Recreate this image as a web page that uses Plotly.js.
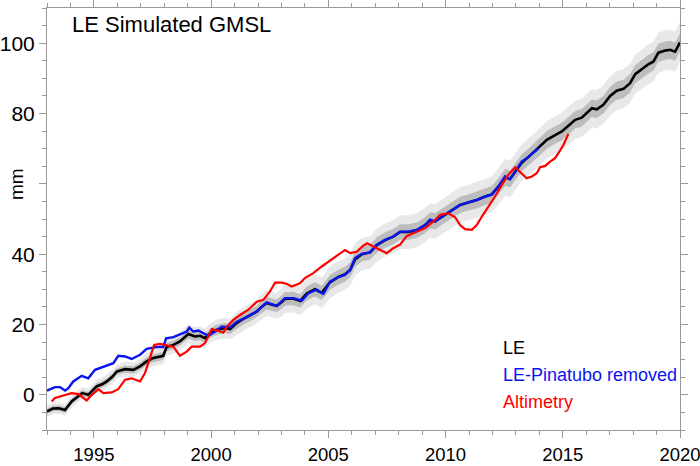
<!DOCTYPE html>
<html>
<head>
<meta charset="utf-8">
<script src="https://cdn.plot.ly/plotly-3.0.1.min.js"></script>
<style>
  body { margin: 0; background: #fff; }
  #plotArea { width: 700px; height: 466px; }
</style>
</head>
<body>
<div id="plotArea"></div>
<script>
// LE ensemble mean (black)
var leYears = [1993.0, 1993.25, 1993.5, 1993.77, 1994.05, 1994.3, 1994.5, 1994.76, 1995.12, 1995.35,
  1995.55, 1995.8, 1995.97, 1996.33, 1996.68, 1996.97, 1997.25, 1997.5, 1997.68, 1997.96,
  1998.1, 1998.39, 1998.67, 1999.03, 1999.31, 1999.53, 1999.74, 1999.95, 2000.24, 2000.59,
  2000.81, 2001.09, 2001.3, 2001.52, 2001.75, 2001.95, 2002.15, 2002.37, 2002.6, 2002.8,
  2003.0, 2003.15, 2003.5, 2003.8, 2004.08, 2004.43, 2004.72, 2005.07, 2005.43, 2005.71,
  2005.93, 2006.14, 2006.43, 2006.78, 2007.07, 2007.42, 2007.77, 2008.06, 2008.41, 2008.77,
  2009.13, 2009.34, 2009.55, 2009.91, 2010.27, 2010.62, 2010.97, 2011.33, 2011.69, 2011.97,
  2012.25, 2012.54, 2012.75, 2012.97, 2013.25, 2013.53, 2013.75, 2013.96, 2014.32, 2014.6,
  2014.96, 2015.24, 2015.53, 2015.81, 2016.02, 2016.24, 2016.45, 2016.73, 2017.02, 2017.3,
  2017.59, 2017.87, 2018.09, 2018.37, 2018.65, 2018.87, 2019.08, 2019.37, 2019.58, 2019.79,
  2020.0];
var leMm = [-4.7, -3.9, -3.8, -4.3, -1.9, -0.5, 0.5, 0.0, 2.4, 3.0,
  3.8, 5.2, 6.6, 7.3, 7.1, 8.1, 9.5, 10.4, 10.6, 11.1,
  13.6, 14.2, 15.2, 17.3, 16.6, 16.8, 16.1, 17.5, 18.5, 19.0,
  18.7, 20.4, 21.3, 22.1, 22.8, 23.7, 25.0, 26.1, 25.6, 25.3,
  26.3, 27.3, 27.4, 26.7, 28.8, 30.0, 29.0, 32.0, 33.5, 34.3,
  35.5, 38.5, 40.0, 40.5, 42.6, 44.0, 45.0, 46.3, 46.3, 46.8,
  48.3, 49.6, 49.3, 50.9, 52.5, 54.0, 54.7, 55.4, 56.4, 57.0,
  59.2, 61.8, 61.4, 63.5, 66.0, 67.6, 69.0, 70.1, 72.5, 73.6,
  74.9, 76.5, 78.2, 78.8, 80.0, 81.5, 81.2, 82.5, 85.0, 86.5,
  87.0, 88.6, 91.2, 92.6, 94.0, 94.8, 97.3, 97.9, 98.1, 97.6,
  100.2];

// ensemble spread half-widths by calendar year (1993..2020)
var spreadYears = [1993, 1994, 1995, 1996, 1997, 1998, 1999, 2000, 2001, 2002, 2003, 2004, 2005, 2006,
  2007, 2008, 2009, 2010, 2011, 2012, 2013, 2014, 2015, 2016, 2017, 2018, 2019, 2020];
var spreadInner = [0.8, 0.8, 0.9, 1.0, 1.1, 1.2, 1.3, 1.4, 1.6, 1.8, 1.9, 2.0, 2.1, 2.1,
  2.2, 2.2, 2.3, 2.3, 2.4, 2.4, 2.4, 2.5, 2.5, 2.5, 2.6, 2.6, 2.6, 2.6];
var spreadOuter = [1.6, 1.7, 1.9, 2.1, 2.3, 2.5, 2.7, 2.9, 3.3, 3.7, 4.0, 4.3, 4.5, 4.6,
  4.7, 4.8, 4.9, 5.0, 5.1, 5.2, 5.2, 5.3, 5.4, 5.5, 5.6, 5.6, 5.7, 5.7];

// LE with Pinatubo removed (blue)
var pinYears = [1993.0, 1993.34, 1993.55, 1993.77, 1993.91, 1994.12, 1994.48, 1994.76, 1995.05, 1995.4,
  1995.83, 1996.04, 1996.33, 1996.61, 1996.97, 1997.25, 1997.68, 1997.96, 1998.08, 1998.39,
  1998.75, 1998.96, 1999.07, 1999.24, 1999.46, 1999.67, 1999.88, 2000.17, 2000.45, 2000.81,
  2001.09, 2001.52, 2001.95, 2002.37, 2002.8, 2003.15, 2003.51, 2003.87, 2004.15, 2004.5,
  2004.79, 2005.07, 2005.43, 2005.71, 2005.93, 2006.14, 2006.43, 2006.78, 2007.07, 2007.42,
  2007.77, 2008.06, 2008.41, 2008.77, 2009.13, 2009.34, 2009.55, 2009.91, 2010.27, 2010.62,
  2010.97, 2011.33, 2011.69, 2011.97, 2012.25, 2012.54, 2012.75, 2012.97, 2013.25, 2013.53,
  2013.75, 2013.96];
var pinMm = [1.2, 2.2, 2.2, 1.2, 1.9, 3.8, 5.4, 4.7, 7.1, 7.9,
  9.0, 11.1, 10.9, 10.2, 11.4, 13.1, 13.6, 13.6, 16.1, 16.4,
  17.5, 18.0, 19.1, 18.0, 18.3, 17.5, 16.8, 18.0, 19.4, 19.2,
  20.8, 22.1, 23.7, 26.3, 25.3, 27.5, 27.5, 26.8, 28.9, 29.9,
  28.7, 32.2, 33.5, 34.1, 35.5, 38.9, 40.1, 40.5, 42.7, 44.1,
  45.0, 46.4, 46.4, 46.9, 48.3, 49.8, 49.3, 50.9, 52.6, 54.0,
  54.7, 55.4, 56.4, 56.9, 59.2, 62.1, 61.3, 63.5, 66.3, 67.6,
  69.0, 70.1];

// satellite altimetry (red)
var altYears = [1993.2, 1993.34, 1993.7, 1994.05, 1994.34, 1994.69, 1994.91, 1995.19, 1995.4, 1995.76,
  1996.04, 1996.33, 1996.61, 1996.97, 1997.18, 1997.39, 1997.57, 1997.82, 1998.1, 1998.39,
  1998.67, 1998.96, 1999.17, 1999.53, 1999.74, 2000.03, 2000.31, 2000.52, 2000.67, 2000.95,
  2001.23, 2001.59, 2001.95, 2002.23, 2002.51, 2002.73, 2003.01, 2003.22, 2003.43, 2003.79,
  2004.0, 2004.36, 2004.72, 2005.07, 2005.43, 2005.71, 2005.93, 2006.21, 2006.49, 2006.66,
  2006.92, 2007.21, 2007.49, 2007.77, 2008.06, 2008.35, 2008.77, 2009.13, 2009.48, 2009.77,
  2010.12, 2010.41, 2010.62, 2010.83, 2011.12, 2011.33, 2011.55, 2011.83, 2012.11, 2012.4,
  2012.68, 2012.97, 2013.25, 2013.46, 2013.68, 2013.89, 2014.03, 2014.25, 2014.46, 2014.67,
  2014.86, 2015.03, 2015.24];
var altMm = [-1.9, -0.9, -0.2, 0.5, 0.2, -1.6, 0.0, 1.6, 0.5, 0.7,
  1.6, 4.3, 4.7, 3.8, 6.2, 10.9, 14.2, 14.5, 14.2, 13.7,
  11.1, 12.3, 13.7, 13.7, 14.7, 18.7, 18.2, 17.7, 19.4, 21.3,
  22.7, 24.2, 26.5, 27.0, 29.4, 31.9, 31.9, 31.6, 30.8, 31.7,
  33.2, 34.6, 36.5, 38.2, 39.8, 41.2, 40.3, 40.7, 42.4, 43.1,
  42.2, 41.2, 40.3, 41.7, 42.7, 45.2, 46.4, 47.4, 49.3, 51.2,
  51.6, 50.5, 48.3, 47.1, 46.9, 48.3, 50.7, 53.5, 56.4, 59.7,
  62.6, 64.7, 63.0, 61.6, 62.1, 63.0, 64.7, 65.1, 66.3, 67.3,
  69.2, 71.1, 74.2];

var fontFam = "Liberation Sans, Arial, Helvetica, sans-serif";

function band(spread) {
  var up = [], lo = [];
  for (var i = 0; i < leYears.length; i++) {
    var k = spreadYears.indexOf(Math.floor(leYears[i]));
    up.push(leMm[i] + spread[k]);
    lo.push(leMm[i] - spread[k]);
  }
  return {
    x: leYears.concat(leYears.slice().reverse()),
    y: up.concat(lo.reverse())
  };
}

var outer = band(spreadOuter);
var inner = band(spreadInner);

var outerTrace = {x: outer.x, y: outer.y, type: "scatter", mode: "lines", fill: "toself",
  fillcolor: "#e8e8e8", line: {width: 0}, hoverinfo: "skip", showlegend: false};
var innerTrace = {x: inner.x, y: inner.y, type: "scatter", mode: "lines", fill: "toself",
  fillcolor: "#bdbdbd", line: {width: 0}, hoverinfo: "skip", showlegend: false};
var leTrace = {x: leYears, y: leMm, type: "scatter", mode: "lines", name: "LE",
  line: {color: "#000000", width: 2.6}, showlegend: false};
var pinTrace = {x: pinYears, y: pinMm, type: "scatter", mode: "lines", name: "LE-Pinatubo removed",
  line: {color: "#0a14f0", width: 2.4}, showlegend: false};
var altTrace = {x: altYears, y: altMm, type: "scatter", mode: "lines", name: "Altimetry",
  line: {color: "#ff0000", width: 2.2}, showlegend: false};

var axisCommon = {
  showline: true, linecolor: "#999999", linewidth: 1, mirror: "ticks",
  ticks: "outside", ticklen: 7, tickcolor: "#999999", tickwidth: 1,
  showgrid: false, zeroline: false, ticklabeloverflow: "allow"
};

var layout = {
  width: 700, height: 466,
  margin: {l: 47, r: 20, t: 8, b: 36},
  paper_bgcolor: "#ffffff", plot_bgcolor: "#ffffff",
  showlegend: false,
  xaxis: Object.assign({}, axisCommon, {
    range: [1993, 2020], tickmode: "linear", tick0: 1995, dtick: 5,
    ticklabelstandoff: 1,
    tickfont: {family: fontFam, size: 18.5, color: "#000000"},
    minor: {dtick: 1, tick0: 1993, ticklen: 4, tickcolor: "#999999", ticks: "outside"}
  }),
  yaxis: Object.assign({}, axisCommon, {
    range: [-10, 110], tickmode: "array",
    tickvals: [0, 20, 40, 60, 80, 100],
    ticktext: ["0", "20", "40", "", "80", "100"],
    tickfont: {family: fontFam, size: 21, color: "#000000"},
    minor: {dtick: 5, tick0: 0, ticklen: 4, tickcolor: "#999999", ticks: "outside"}
  }),
  annotations: [
    {text: "LE Simulated GMSL", xref: "paper", yref: "paper", x: 0.036, y: 0.962,
      xanchor: "left", yanchor: "middle", showarrow: false,
      font: {family: fontFam, size: 22, color: "#000000"}},
    {text: "mm", xref: "paper", yref: "y", x: -0.047, y: 60, textangle: -90,
      xanchor: "center", yanchor: "middle", showarrow: false,
      font: {family: fontFam, size: 19, color: "#000000"}},
    {text: "LE", xref: "paper", yref: "paper", x: 0.718, y: 0.194,
      xanchor: "left", yanchor: "middle", showarrow: false,
      font: {family: fontFam, size: 18, color: "#000000"}},
    {text: "LE-Pinatubo removed", xref: "paper", yref: "paper", x: 0.718, y: 0.13,
      xanchor: "left", yanchor: "middle", showarrow: false,
      font: {family: fontFam, size: 18, color: "#0a14f0"}},
    {text: "Altimetry", xref: "paper", yref: "paper", x: 0.718, y: 0.066,
      xanchor: "left", yanchor: "middle", showarrow: false,
      font: {family: fontFam, size: 18, color: "#ff0000"}}
  ]
};

Plotly.newPlot("plotArea", [outerTrace, innerTrace, leTrace, pinTrace, altTrace], layout,
  {displayModeBar: false, staticPlot: true});
</script>
</body>
</html>
